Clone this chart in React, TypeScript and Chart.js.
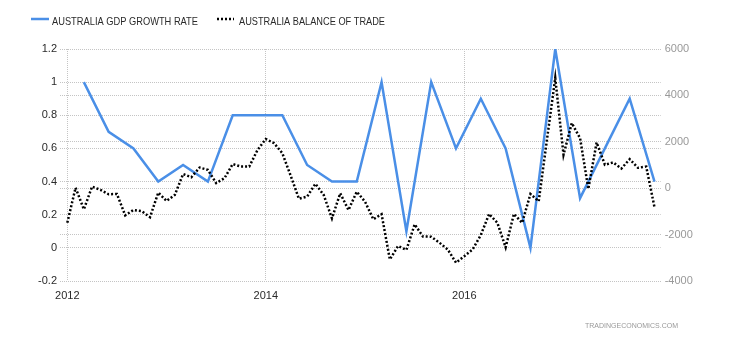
import React, { useEffect, useRef } from "react";
import { Chart, registerables } from "chart.js";

Chart.register(...registerables);

const gdpLabel = "AUSTRALIA GDP GROWTH RATE";
const tradeLabel = "AUSTRALIA BALANCE OF TRADE";
const watermark = "TRADINGECONOMICS.COM";

// GDP growth rate (%), quarterly, Q1 2012 – Q4 2017
const gdpValues = [
  1.0, 0.7, 0.6, 0.4, 0.5, 0.4, 0.8, 0.8, 0.8, 0.5, 0.4, 0.4,
  1.0, 0.1, 1.0, 0.6, 0.9, 0.6, 0.0, 1.2, 0.3, 0.6, 0.9, 0.4,
];

// Balance of trade (AUD million), monthly, Jan 2012 – Dec 2017
const tradeValues = [
  -1490, 20, -910, 70, -70, -260, -250, -1170, -940, -990, -1250, -190,
  -550, -290, 610, 475, 890, 790, 220, 430, 1040, 930, 930, 1650,
  2120, 1940, 1510, 550, -450, -360, 190, -290, -1300, -220, -940, -150,
  -580, -1340, -1120, -3070, -2490, -2660, -1560, -2080, -2090, -2350, -2640, -3210,
  -2930, -2640, -2020, -1110, -1490, -2550, -1110, -1490, -250, -560, 2100, 4750,
  1440, 2810, 2160, -30, 1970, 1010, 1110, 850, 1250, 880, 930, -820,
];

// x positions are month indices from Jan 2012
const xTickValues = [0, 24, 48];
const xTickLabels = ["2012", "2014", "2016"];

const gdpColor = "#4a8fe7";
const gridColor = "#c4c4c4";
const fontFamily = "'Liberation Sans', Arial, sans-serif";
const tradeDash = [2, 2];

const overlayPlugin = {
  id: "overlay",
  afterDraw(chart: any) {
    const ctx = chart.ctx as CanvasRenderingContext2D;
    ctx.save();
    // legend: GDP
    ctx.lineCap = "butt";
    ctx.lineWidth = 2.5;
    ctx.strokeStyle = gdpColor;
    ctx.setLineDash([]);
    ctx.beginPath();
    ctx.moveTo(23, 11);
    ctx.lineTo(41, 11);
    ctx.stroke();
    ctx.font = "11px " + fontFamily;
    ctx.fillStyle = "#2a2a2a";
    ctx.textBaseline = "alphabetic";
    ctx.textAlign = "left";
    ctx.fillText(gdpLabel, 44, 17, 146);
    // legend: trade
    ctx.strokeStyle = "#000";
    ctx.setLineDash(tradeDash);
    ctx.beginPath();
    ctx.moveTo(209, 11);
    ctx.lineTo(226, 11);
    ctx.stroke();
    ctx.setLineDash([]);
    ctx.fillText(tradeLabel, 231, 17, 146);
    // watermark
    ctx.font = "8px " + fontFamily;
    ctx.fillStyle = "#999";
    ctx.fillText(watermark, 577, 320, 93);
    ctx.restore();
  },
};

export default function App() {
  const ref = useRef<HTMLCanvasElement>(null);

  useEffect(() => {
    const canvas = ref.current!;
    const chart = new Chart(canvas, {
      type: "line",
      data: {
        datasets: [
          {
            label: gdpLabel,
            data: gdpValues.map((v, i) => ({ x: 2 + 3 * i, y: v })),
            yAxisID: "y",
            borderColor: gdpColor,
            backgroundColor: gdpColor,
            borderWidth: 2.5,
            pointRadius: 0,
            tension: 0,
            order: 1,
          },
          {
            label: tradeLabel,
            data: tradeValues.map((v, i) => ({ x: i, y: v })),
            yAxisID: "y1",
            borderColor: "#000",
            backgroundColor: "#000",
            borderWidth: 2.5,
            borderDash: tradeDash,
            pointRadius: 0,
            tension: 0,
            order: 0,
          },
        ],
      },
      options: {
        responsive: false,
        animation: false,
        events: [],
        font: { family: fontFamily },
        layout: { padding: { top: 41, left: 0, right: 0, bottom: 0 } },
        plugins: {
          legend: { display: false },
          tooltip: { enabled: false },
        },
        scales: {
          x: {
            type: "linear",
            min: -0.883,
            max: 71.75,
            afterBuildTicks: (s: any) => {
              s.ticks = xTickValues.map((v) => ({ value: v }));
            },
            afterFit: (s: any) => {
              s.height = 51;
            },
            ticks: {
              autoSkip: false,
              maxRotation: 0,
              padding: 8,
              color: "#2a2a2a",
              font: { size: 11, family: fontFamily },
              callback: (v: any) => {
                const k = xTickValues.indexOf(Number(v));
                return k >= 0 ? xTickLabels[k] : "";
              },
            },
            grid: { color: gridColor, drawTicks: false },
            border: { display: false, dash: [1, 1] },
          },
          y: {
            type: "linear",
            position: "left",
            min: -0.2,
            max: 1.2,
            afterFit: (s: any) => {
              s.width = 52;
            },
            ticks: {
              stepSize: 0.2,
              padding: 3,
              color: "#2a2a2a",
              font: { size: 11, family: fontFamily },
              callback: (v: any) => String(Number(Number(v).toFixed(1))),
            },
            grid: { color: gridColor, drawTicks: false },
            border: { display: false, dash: [1, 1] },
          },
          y1: {
            type: "linear",
            position: "right",
            min: -4000,
            max: 6000,
            afterFit: (s: any) => {
              s.width = 61.3;
            },
            ticks: {
              stepSize: 2000,
              padding: 4,
              color: "#999",
              font: { size: 11, family: fontFamily },
              callback: (v: any) => String(Math.round(Number(v))),
            },
            grid: { color: gridColor, drawTicks: false, drawOnChartArea: true },
            border: { display: false, dash: [1, 1] },
          },
        },
      },
      plugins: [overlayPlugin],
    } as any);
    return () => chart.destroy();
  }, []);

  return (
    <div style={{ width: 714, height: 324 }}>
      <canvas ref={ref} width={714} height={324} style={{ display: "block" }} />
    </div>
  );
}
